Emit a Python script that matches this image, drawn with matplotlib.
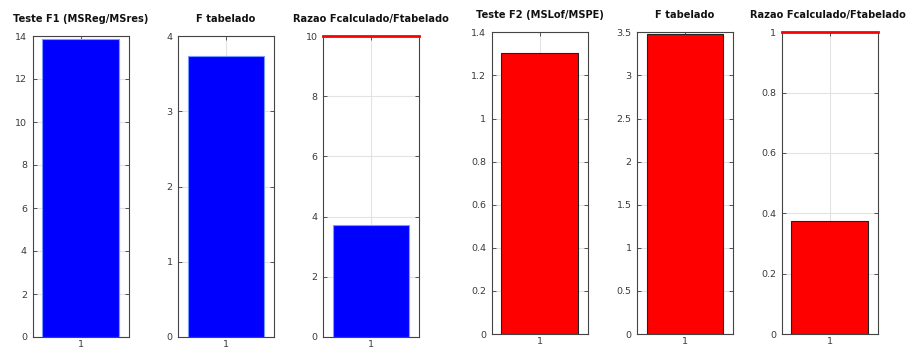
import matplotlib
matplotlib.use("Agg")
import matplotlib.pyplot as plt
import numpy as np

# valores dos testes F (regressao e falta de ajuste)
titulos = ["Teste F1 (MSReg/MSres)", "F tabelado", "Razao Fcalculado/Ftabelado",
           "Teste F2 (MSLof/MSPE)", "F tabelado", "Razao Fcalculado/Ftabelado"]
valores = [13.87, 3.74, 3.71, 1.305, 3.48, 0.375]
ylims = [14, 4, 10, 1.4, 3.5, 1]
ypassos = [2, 1, 2, 0.2, 0.5, 0.2]
cores = ["#0000ff"] * 3 + ["#ff0000"] * 3

W, H = 907, 348
lefts = [32.5, 178, 323, 491.5, 637, 781.5]
largura = 96

fig = plt.figure(figsize=(W / 100, H / 100), dpi=100)
fig.patch.set_facecolor("white")

for i in range(6):
    if i < 3:
        topo, base = 36, 337
    else:
        topo, base = 32.3, 334
    ax = fig.add_axes([lefts[i] / W, (H - base) / H, largura / W, (base - topo) / H])
    borda = "#7a9cff" if i < 3 else "#222222"
    ax.bar([1], [valores[i]], width=0.8, color=cores[i], edgecolor=borda,
           linewidth=0.8, zorder=3)
    ax.set_xlim(0.5, 1.5)
    ax.set_ylim(0, ylims[i])
    ax.set_xticks([1])
    ax.set_xticklabels(["1"])
    ax.set_yticks(np.arange(0, ylims[i] + ypassos[i] / 2, ypassos[i]))
    ax.yaxis.set_major_formatter(plt.FuncFormatter(lambda v, p: f"{v:g}"))
    ax.grid(True, color="#e3e3e3", linewidth=0.8, zorder=0)
    ax.set_axisbelow(True)
    ax.tick_params(direction="in", length=3, width=0.6, labelsize=6.8,
                   colors="#3a3a3a", top=True, right=True, pad=4)
    ax.tick_params(axis="x", pad=2.5)
    for s in ax.spines.values():
        s.set_color("#444444")
        s.set_linewidth(0.8)
    if i in (2, 5):
        # linha de referencia no limite superior
        ax.axhline(ylims[i], color="#ff0000", linewidth=2, zorder=4, clip_on=False)
    t = ax.set_title(titulos[i], fontsize=7.1, fontweight="bold", pad=10, color="#111111")
    if i == 5:
        t.set_x(0.48)

fig.savefig("out.png", dpi=100, facecolor="white")
